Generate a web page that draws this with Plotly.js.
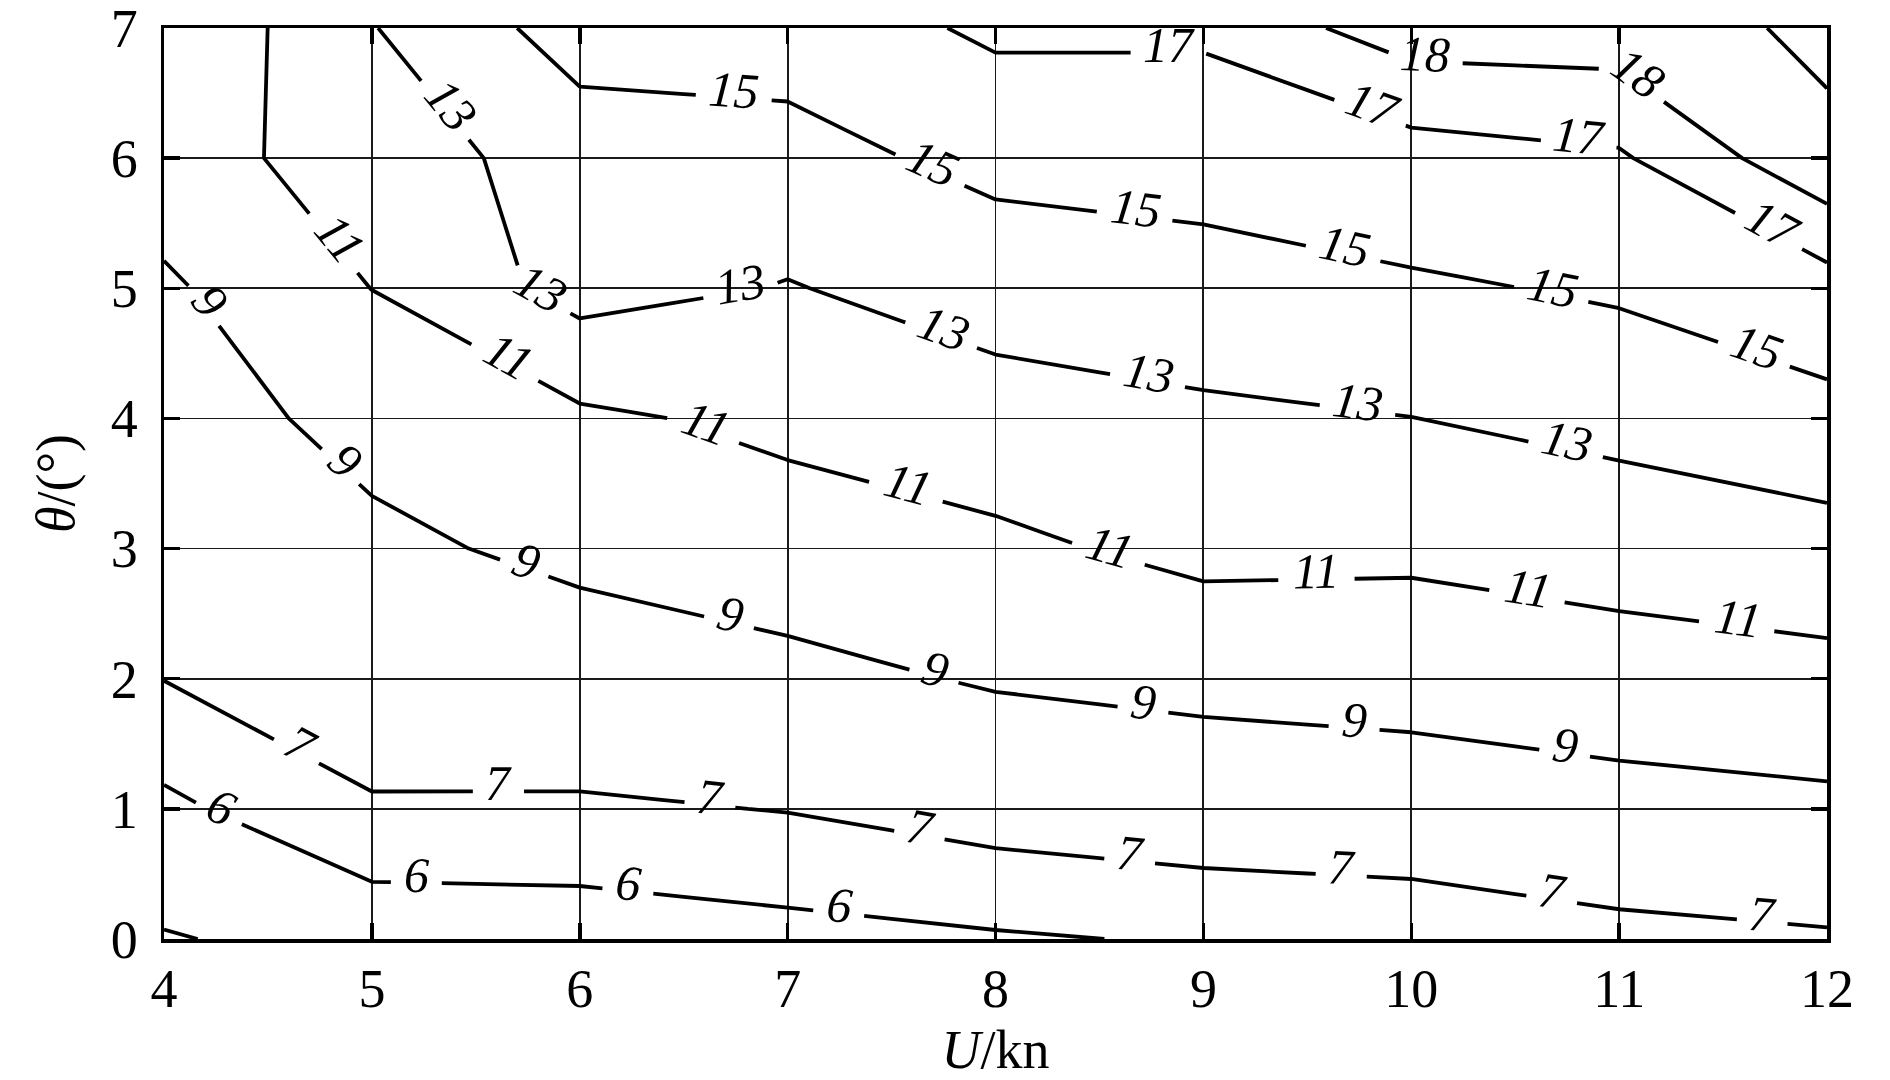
<!DOCTYPE html>
<html>
<head>
<meta charset="utf-8">
<script src="https://cdn.plot.ly/plotly-3.0.1.min.js"></script>
<style>html,body{margin:0;padding:0;background:#fff;}#chart{width:1890px;height:1080px;}</style>
</head>
<body>
<div id="chart"></div>
<script>
// Axis grid of the sampled field
const U = [4, 5, 6, 7, 8, 9, 10, 11, 12];          // U / kn
const theta = [0, 1, 2, 3, 4, 5, 6, 7];            // θ / °
// Field values (rows = theta, columns = U), read from the contour positions
const z0 = [4.94, 5.31, 5.43, 5.67, 5.89, 6.10, 6.17, 6.60, 6.84];
const z1 = [5.77, 6.88, 6.83, 7.04, 7.48, 7.75, 7.97, 8.35, 8.62];
const z2 = [7.02, 7.78, 8.09, 8.51, 9.17, 9.52, 9.72, 10.10, 10.42];
const z3 = [7.63, 8.66, 9.39, 10.00, 10.60, 11.50, 11.37, 11.83, 12.28];
const z4 = [8.25, 9.50, 10.65, 11.47, 12.19, 12.66, 12.98, 13.56, 14.33];
const z5 = [8.70, 11.02, 13.71, 12.90, 13.84, 14.23, 14.71, 15.26, 16.56];
const z6 = [10.12, 11.95, 13.90, 14.33, 15.54, 15.80, 16.54, 16.87, 18.78];
const z7 = [9.10, 12.91, 15.90, 15.87, 17.34, 17.28, 18.50, 18.53, 19.19];
// Contour levels and whether they carry inline labels
const levels = [5, 6, 7, 9, 11, 13, 15, 17, 18, 19];
const labeled = [false, true, true, true, true, true, true, true, true, false];
const xTicks = [4, 5, 6, 7, 8, 9, 10, 11, 12];
const yTicks = [0, 1, 2, 3, 4, 5, 6, 7];

// Label layout (style): distance of first label from the line's left end, and label count
const labelFirst = [0, 62, 150, 60, 240, 106, 240, 227, 105, 0];
const labelCount = [0, 4, 8, 8, 8, 7, 6, 4, 2, 0];
const LABEL_SPACING = 212;   // px along each line between labels
const LABEL_SIZE = 50;
const LABEL_LIFT = 8;        // px the label sits above its line

const Z = [z0, z1, z2, z3, z4, z5, z6, z7];
const serif = 'Liberation Serif, Times New Roman, serif';

const traces = levels.map((lv) => ({
  type: 'contour',
  x: U, y: theta, z: Z,
  autocontour: false,
  contours: {start: lv, end: lv, size: 1, coloring: 'none', showlabels: false},
  line: {color: '#000', width: 3.8, smoothing: 0},
  showscale: false,
  hoverinfo: 'skip'
}));

const axisCommon = {
  showgrid: true, gridcolor: '#1a1a1a', gridwidth: 1.8,
  zeroline: false,
  showline: true, linecolor: '#000', linewidth: 3.5, mirror: 'allticks',
  ticks: 'inside', ticklen: 16, tickwidth: 3.5, tickcolor: '#000',
  ticklabeloverflow: 'allow',
  tickfont: {family: serif, size: 54, color: '#000'}
};

const layout = {
  width: 1890, height: 1080,
  margin: {l: 164, r: 63, t: 28, b: 141, pad: 0},
  paper_bgcolor: '#fff', plot_bgcolor: '#fff',
  showlegend: false,
  xaxis: Object.assign({}, axisCommon, {
    range: [4, 12], tickvals: xTicks, ticktext: xTicks.map(String),
    ticklabelstandoff: 0,
    title: {text: '<i>U</i>/kn', font: {family: serif, size: 54, color: '#000'}, standoff: 14}
  }),
  yaxis: Object.assign({}, axisCommon, {
    range: [0, 7], tickvals: yTicks, ticktext: yTicks.map(String),
    ticklabelstandoff: 12,
    title: {text: '<i>θ</i>/(°)', font: {family: serif, size: 54, color: '#000'}, standoff: 20}
  })
};

Plotly.newPlot('chart', traces, layout, {staticPlot: true, displayModeBar: false}).then((gd) => {
  // Inline labels placed along the contour paths that Plotly itself computed
  const xa = gd._fullLayout.xaxis, ya = gd._fullLayout.yaxis;
  const anns = [];
  const gapJobs = [];
  gd.querySelectorAll('g.contour').forEach((node) => {
    const cd = node.__data__;
    if (!cd || !cd[0] || !cd[0].trace) return;
    const idx = cd[0].trace.index;
    if (!labeled[idx]) return;
    const lv = levels[idx];
    const txt = String(lv);
    const gap = 0.5 * LABEL_SIZE * txt.length + 26;
    node.querySelectorAll('path.openline, path.closedline').forEach((path) => {
      const L = path.getTotalLength();
      if (L < 40) return;
      const p0 = path.getPointAtLength(0), p1 = path.getPointAtLength(L);
      const reversed = p1.x < p0.x;            // measure from the left end
      const posList = [];
      for (let k = 0; k < labelCount[idx]; k++) {
        const d = labelFirst[idx] + k * LABEL_SPACING;
        if (d > L - 10) break;
        posList.push(reversed ? L - d : d);
      }
      posList.sort((a, b) => a - b);
      posList.forEach((s) => {
        const p = path.getPointAtLength(s);
        const a = path.getPointAtLength(Math.max(0, s - 4));
        const b = path.getPointAtLength(Math.min(L, s + 4));
        let ang = Math.atan2(b.y - a.y, b.x - a.x) * 180 / Math.PI;
        if (ang > 90) ang -= 180;
        if (ang < -90) ang += 180;
        const r = ang * Math.PI / 180;
        anns.push({
          xref: 'x', yref: 'y', x: xa.p2d(p.x), y: ya.p2d(p.y),
          xshift: LABEL_LIFT * Math.sin(r), yshift: LABEL_LIFT * Math.cos(r),
          text: '<i>' + txt + '</i>', showarrow: false, textangle: ang,
          xanchor: 'center', yanchor: 'middle',
          font: {family: serif, size: LABEL_SIZE, color: '#000'},
          bgcolor: 'rgba(0,0,0,0)', borderpad: 0
        });
      });
      // dash pattern that opens a gap in the line under every label
      const arr = [];
      let cur = 0;
      posList.forEach((s) => {
        const a = Math.max(cur, s - gap / 2), b = Math.min(L, s + gap / 2);
        arr.push(a - cur, b - a);
        cur = b;
      });
      arr.push(Math.max(0, L - cur) + 20);
      gapJobs.push([path, arr.join(',')]);
    });
  });
  return Plotly.relayout(gd, {annotations: anns}).then(() => {
    gapJobs.forEach(([path, dash]) => { path.style.strokeDasharray = dash; });
  });
});
</script>
</body>
</html>
